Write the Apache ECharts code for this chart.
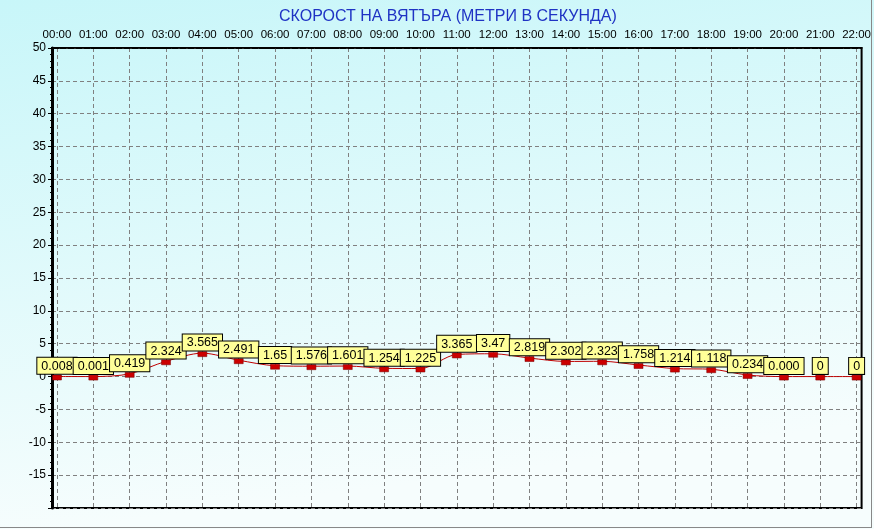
<!DOCTYPE html>
<html>
<head>
<meta charset="utf-8">
<script src="https://cdn.jsdelivr.net/npm/echarts@6/dist/echarts.min.js"></script>
<style>
html,body{margin:0;padding:0;background:#fff;}
#chart{position:absolute;left:0;top:0;width:874px;height:529px;}
#frame{position:absolute;left:0;top:0;width:871px;height:527px;border-right:1px solid #888;border-bottom:1px solid #888;pointer-events:none;}
#cover{position:absolute;left:0;top:0;width:874px;height:529px;background:#fff;}
</style>
</head>
<body>
<div id="cover"></div>
<div id="chart"></div>
<div id="frame"></div>
<script>
const titleText = 'СКОРОСТ НА ВЯТЪРА (МЕТРИ В СЕКУНДА)';
const hours = ['00:00','01:00','02:00','03:00','04:00','05:00','06:00','07:00','08:00','09:00','10:00','11:00','12:00','13:00','14:00','15:00','16:00','17:00','18:00','19:00','20:00','21:00','22:00'];
const speeds = [0.008,0.001,0.419,2.324,3.565,2.491,1.65,1.576,1.601,1.254,1.225,3.365,3.47,2.819,2.302,2.323,1.758,1.214,1.118,0.234,0.000,0,0];
const speedLabels = ['0.008','0.001','0.419','2.324','3.565','2.491','1.65','1.576','1.601','1.254','1.225','3.365','3.47','2.819','2.302','2.323','1.758','1.214','1.118','0.234','0.000','0','0'];
const yTicks = {min:-20, max:50, step:5};

const chart = echarts.init(document.getElementById('chart'));
const hourIdx = hours.map((h,i)=>i);
const gridLine = {show:true, lineStyle:{color:'#808080', type:[4,3], width:1}};
chart.setOption({
  animation:false,
  backgroundColor:{type:'linear',x:0,y:0,x2:0.08,y2:1,colorStops:[{offset:0,color:'#c8f6f9'},{offset:1,color:'#f6fdfd'}]},
  title:{text:titleText,left:274,top:4,textStyle:{color:'#1f33c4',fontSize:16,fontWeight:'normal',fontFamily:'Liberation Sans'}},
  grid:{left:52,right:9,top:48,bottom:21,show:true,borderColor:'#000',borderWidth:2,backgroundColor:'transparent'},
  xAxis:{
    type:'value', position:'top',
    min:-0.137, max:hours.length-1+0.137,
    axisLine:{show:true,onZero:false,lineStyle:{color:'#000',width:2,type:[6,2]}},
    axisTick:{show:false,customValues:hourIdx},
    axisLabel:{customValues:hourIdx,formatter:v=>hours[Math.round(v)],color:'#000',fontSize:11.5,fontFamily:'Liberation Sans',margin:7},
    splitLine:gridLine
  },
  yAxis:{
    type:'value', min:yTicks.min, max:yTicks.max, interval:yTicks.step,
    axisLine:{show:true,onZero:false,lineStyle:{color:'#000',width:3}},
    axisTick:{show:true,length:4,lineStyle:{color:'#000'}},
    minorTick:{show:true,splitNumber:5,length:2,lineStyle:{color:'#000'}},
    axisLabel:{showMinLabel:false,color:'#000',fontSize:12,fontFamily:'Liberation Sans',margin:6},
    splitLine:gridLine
  },
  series:[{
    type:'line',
    data:speeds.map((v,i)=>[i,v]),
    smooth:0.3,
    symbol:'rect', symbolSize:[9,5], symbolOffset:[0,1],
    itemStyle:{color:'#cc0000',borderColor:'#7a0000',borderWidth:0.5},
    lineStyle:{color:'#c00000',width:1},
    label:{show:true,position:'top',distance:1,formatter:p=>speedLabels[p.dataIndex],
      color:'#000',fontSize:12.5,fontFamily:'Liberation Sans',backgroundColor:'#ffff99',borderColor:'#000',borderWidth:1,padding:[2,4,1,4]},
    labelLayout:{hideOverlap:false}
  }]
});
</script>
</body>
</html>
